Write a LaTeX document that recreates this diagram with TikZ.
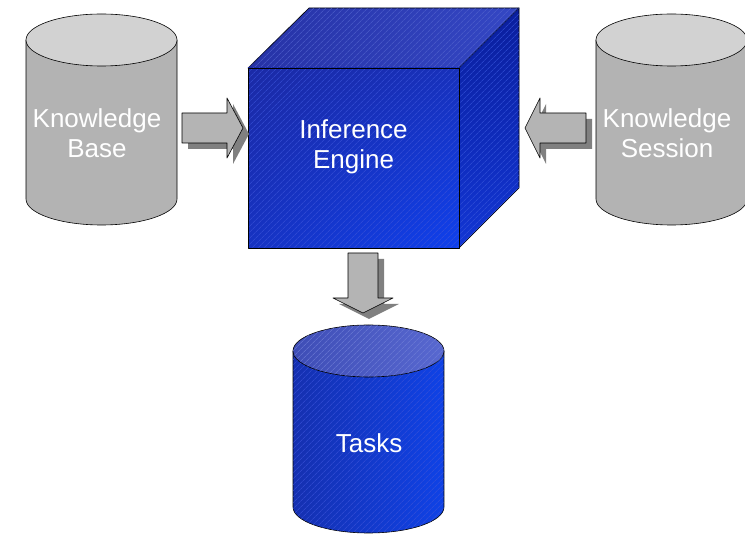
\documentclass[tikz,border=0pt]{standalone}
\usepackage{fontspec}
\setmainfont{Liberation Sans}
\usetikzlibrary{patterns.meta,shadings}
\definecolor{cylgray}{HTML}{B3B3B3}
\definecolor{cyltop}{HTML}{D2D2D2}
\definecolor{arrgray}{HTML}{B4B4B4}
\definecolor{arrshadow}{HTML}{808080}
\definecolor{frontA}{HTML}{1B2AA6}
\definecolor{frontB}{HTML}{0F40EC}
\definecolor{topA}{HTML}{2632A6}
\definecolor{topB}{HTML}{3447C4}
\definecolor{sideA}{HTML}{0A1E9C}
\definecolor{sideB}{HTML}{1236D4}
\definecolor{taskA}{HTML}{1530B0}
\definecolor{taskB}{HTML}{0F42E6}
\definecolor{tasktopA}{HTML}{3E4DB6}
\definecolor{tasktopB}{HTML}{5868D0}
\definecolor{stripeblue}{HTML}{3A52D8}
\tikzset{
  outline/.style={draw=black, line width=0.6pt, line join=round},
  label/.style={text=white, font=\fontsize{26}{30}\selectfont, align=center, inner sep=0pt},
  stripes/.style={pattern={Lines[angle=45, distance=4pt, line width=0.5pt]}, pattern color=#1},
  stripes/.default=stripeblue,
  blockarrow/.style={outline, fill=arrgray},
  arrowshadow/.style={fill=arrshadow},
}
\begin{document}
\begin{tikzpicture}[x=1pt, y=-1pt]
\useasboundingbox (0,0) rectangle (745,534);
\begin{scope}
\clip (0,0) rectangle (745,534);

% ---- Knowledge Base cylinder ----
\path[outline, fill=cylgray] (26,40) -- (26,199) arc[start angle=180, end angle=0, x radius=75.5, y radius=26] -- (177,40) -- cycle;
\path[outline, fill=cyltop] (101.5,40) ellipse[x radius=75.5, y radius=26];
\node[label] (kb) at (97,133) {Knowledge\\Base};

% ---- Knowledge Session cylinder ----
\path[outline, fill=cylgray] (596,40) -- (596,199) arc[start angle=180, end angle=0, x radius=75.5, y radius=26] -- (747,40) -- cycle;
\path[outline, fill=cyltop] (671.5,40) ellipse[x radius=75.5, y radius=26];
\node[label] (ks) at (667,133) {Knowledge\\Session};

% ---- Inference Engine cube ----
\path[outline, left color=topA, right color=topB] (248,68) -- (309,8) -- (519,8) -- (459,68) -- cycle;
\path[stripes=topB!85!white] (248,68) -- (309,8) -- (519,8) -- (459,68) -- cycle;
\path[outline, top color=sideA, bottom color=sideB] (459,68) -- (519,8) -- (519,188) -- (459,248) -- cycle;
\path[stripes=sideB!85!white] (459,68) -- (519,8) -- (519,188) -- (459,248) -- cycle;
\shade[upper left=frontA, upper right=frontA!70!frontB, lower left=frontA!60!frontB, lower right=frontB] (248,68) rectangle (459,248);
\path[stripes] (248,68) rectangle (459,248);
\path[outline] (248,68) rectangle (459,248);
\node[label] (ie) at (353.5,147) {Inference\\Engine};

% ---- Tasks cylinder ----
\path[outline, left color=taskA, right color=taskB] (293,351) -- (293,507) arc[start angle=180, end angle=0, x radius=75.5, y radius=26] -- (444,351) -- cycle;
\path[stripes] (293,351) -- (293,507) arc[start angle=180, end angle=0, x radius=75.5, y radius=26] -- (444,351) -- cycle;
\path[outline, left color=tasktopA, right color=tasktopB] (368.5,351) ellipse[x radius=75.5, y radius=26];
\path[stripes=tasktopB!85!white] (368.5,351) ellipse[x radius=75.5, y radius=26];
\node[label] (tasks) at (369,443) {Tasks};

% ---- block arrows with drop shadows ----
% into the engine from the knowledge base
\path[arrowshadow, shift={(6,6)}] (182,113) -- (227,113) -- (227,98) -- (243,128) -- (227,158) -- (227,143) -- (182,143) -- cycle;
\path[blockarrow] (182,113) -- (227,113) -- (227,98) -- (243,128) -- (227,158) -- (227,143) -- (182,143) -- cycle;
% into the engine from the knowledge session
\path[arrowshadow, shift={(6,6)}] (586,113) -- (540,113) -- (540,98) -- (525,128) -- (540,158) -- (540,143) -- (586,143) -- cycle;
\path[blockarrow] (586,113) -- (540,113) -- (540,98) -- (525,128) -- (540,158) -- (540,143) -- (586,143) -- cycle;
% from the engine down to the tasks
\path[arrowshadow, shift={(6,6)}] (348,253) -- (378,253) -- (378,298) -- (393,298) -- (363,313) -- (333,298) -- (348,298) -- cycle;
\path[blockarrow] (348,253) -- (378,253) -- (378,298) -- (393,298) -- (363,313) -- (333,298) -- (348,298) -- cycle;
\end{scope}
\end{tikzpicture}
\end{document}
